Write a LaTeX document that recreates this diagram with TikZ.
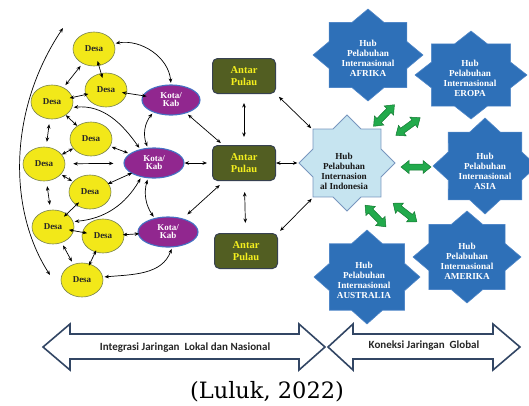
\documentclass[tikz,border=0pt]{standalone}
\usepackage{fontspec}
\setmainfont{Liberation Serif}
\newfontfamily\carlito{Carlito}
\newfontfamily\djserif{DejaVu Serif}
\usetikzlibrary{shapes.geometric,arrows.meta}
\definecolor{desaY}{RGB}{242,232,25}
\definecolor{desaB}{RGB}{120,130,80}
\definecolor{kotaP}{RGB}{145,39,143}
\definecolor{kotaB}{RGB}{68,114,196}
\definecolor{antarG}{RGB}{82,94,34}
\definecolor{antarB}{RGB}{55,65,80}
\definecolor{antarT}{RGB}{245,240,30}
\definecolor{indoF}{RGB}{198,228,240}
\definecolor{indoB}{RGB}{120,150,190}
\definecolor{blueS}{RGB}{46,112,184}
\definecolor{blueB}{RGB}{80,135,200}
\definecolor{grn}{RGB}{34,170,76}
\definecolor{grnB}{RGB}{20,120,50}
\definecolor{blockB}{RGB}{50,70,100}
\newcommand\bluestar[4]{\filldraw[fill=blueS, draw=blueB, line width=0.6pt] plot[variable=\k, samples at={0,...,15}] ({#1+#3*(1-0.235*mod(\k,2))*cos(90+22.5*\k)}, {#2+#4*(1-0.235*mod(\k,2))*sin(90+22.5*\k)}) -- cycle;}
\newcommand\greenlink[4]{\coordinate (#1) at (#2,#3);
 \begin{scope}[shift={(#1)}, rotate=#4]
 \filldraw[fill=grn, draw=grnB, line width=0.5pt, line join=miter] (-15,0) -- (-7,-6.5) -- (-7,-3) -- (7,-3) -- (7,-6.5) -- (15,0) -- (7,6.5) -- (7,3) -- (-7,3) -- (-7,6.5) -- cycle;
 \end{scope}}
\begin{document}
\begin{tikzpicture}[x=1pt,y=-1pt,
 desa/.style={ellipse, draw=desaB, line width=0.6pt, fill=desaY, minimum width=42pt, minimum height=34pt, inner sep=0pt, font=\bfseries\fontsize{9}{9}\selectfont, text=black!85},
 kota/.style={ellipse, draw=kotaB, line width=1.1pt, fill=kotaP, minimum width=60pt, minimum height=30pt, inner sep=0pt, align=center, font=\bfseries\fontsize{9}{8}\selectfont, text=white},
 antar/.style={rectangle, rounded corners=5pt, draw=antarB, line width=1pt, fill=antarG, minimum width=63pt, minimum height=35pt, align=center, font=\bfseries\fontsize{10.5}{11.5}\selectfont, text=antarT},
 hubtxt/.style={align=center, inner sep=0pt, font=\bfseries\fontsize{9.2}{9.9}\selectfont, text=white},
 conn/.style={{Stealth[length=4.5pt,width=3.6pt]}-{Stealth[length=4.5pt,width=3.6pt]}, line width=0.7pt, black, shorten <=1.5pt, shorten >=1.5pt},
 blockarr/.style={draw=blockB, line width=1.6pt, fill=white, line join=miter},
 blocktxt/.style={font=\carlito\bfseries\fontsize{11}{12}\selectfont, text=black!85, anchor=base}
]
\useasboundingbox (0,0) rectangle (529,405);
% villages
\node[desa] (d1) at (94,49) {Desa};
\node[desa] (d2) at (106,90) {Desa};
\node[desa] (d3) at (52,102) {Desa};
\node[desa] (d4) at (91,139) {Desa};
\node[desa] (d5) at (44,164) {Desa};
\node[desa] (d6) at (90,192) {Desa};
\node[desa] (d7) at (53,227) {Desa};
\node[desa] (d8) at (103,236) {Desa};
\node[desa] (d9) at (82,280) {Desa};
% cities
\node[kota, minimum width=58pt] (k1) at (171,100) {Kota/\\Kab};
\node[kota] (k2) at (154,163) {Kota/\\Kab};
\node[kota] (k3) at (168,232) {Kota/\\Kab};
% inter-island
\node[antar] (a1) at (244,76) {Antar\\Pulau};
\node[antar] (a2) at (244,163) {Antar\\Pulau};
\node[antar] (a3) at (246,251) {Antar\\Pulau};
% hubs
\node[star, star points=8, star point ratio=1.307, minimum size=96pt, inner sep=0pt, fill=indoF, draw=indoB, line width=0.8pt] (indo) at (347,163) {};
\node[hubtxt, text=black!90] (indotxt) at (344,171) {Hub\\Pelabuhan\\Internasion\\al Indonesia};
\bluestar{368}{55}{55}{46}
\bluestar{471}{75}{56}{44}
\bluestar{485}{166}{52}{48}
\bluestar{467}{257}{54}{46}
\bluestar{367}{277}{53}{47}
\node[hubtxt] (afrika) at (368,58) {Hub\\Pelabuhan\\Internasional\\AFRIKA};
\node[hubtxt] (eropa) at (470,78) {Hub\\Pelabuhan\\Internasional\\EROPA};
\node[hubtxt] (asia) at (485,171) {Hub\\Pelabuhan\\Internasional\\ASIA};
\node[hubtxt] (amerika) at (467,261) {Hub\\Pelabuhan\\Internasional\\AMERIKA};
\node[hubtxt] (australia) at (364,280) {Hub\\Pelabuhan\\Internasional\\AUSTRALIA};
% green links
\greenlink{g1}{384}{115.5}{46}
\greenlink{g2}{408}{126.5}{36}
\greenlink{g3}{416}{167}{0}
\greenlink{g4}{405}{212.5}{-38}
\greenlink{g5}{375.5}{216}{-46}
% big arc
\coordinate (arcT) at (63,28);
\coordinate (arcB) at (50,275);
\draw[conn, shorten <=0pt, shorten >=0pt] (arcT) .. controls (8,110) and (8,210) .. (arcB);
% village links
\draw[conn, shorten <=-5pt, shorten >=-5pt] (d1) -- (d2);
\draw[conn, shorten <=3pt, shorten >=3pt] (d1) -- (d3);
\draw[conn, shorten <=-3pt, shorten >=-3pt] (d2) -- (d3);
\draw[conn, shorten <=-5pt, shorten >=-4pt] (d2) -- (k1);
\draw[conn] (d1.15) to[out=10,in=95] (k1.north);
\draw[conn] (d3.-15) to[out=5,in=125] (k2.135);
\draw[conn, shorten <=0pt, shorten >=0pt] (d3) -- (d4);
\draw[conn, shorten <=5pt, shorten >=5pt] (d3) -- (d5);
\draw[conn, shorten <=0pt, shorten >=0pt] (d4) -- (d5);
\draw[conn] (d4) -- (k2);
\draw[conn, shorten <=8pt, shorten >=10pt] (d5) -- (k2);
\draw[conn, shorten <=1pt, shorten >=1pt] (d5) -- (d6);
\draw[conn, shorten <=5pt, shorten >=5pt] (d5) -- (d7);
\draw[conn, shorten <=-1pt, shorten >=-1pt] (d6) -- (k2);
\draw[conn, shorten <=-4pt, shorten >=-4pt] (d6) -- (d7);
\draw[conn] (d7.15) to[out=5,in=-120] (k2.228);
\draw[conn, shorten <=-5pt, shorten >=-5pt] (d7) -- (d8);
\draw[conn, shorten <=-1.5pt, shorten >=-1.5pt] (d8) -- (k3);
\draw[conn, shorten <=3pt, shorten >=3pt] (d7) -- (d9);
\draw[conn, shorten <=-2pt, shorten >=-2pt] (d8) -- (d9);
\draw[conn] (d9.8) to[out=5,in=-110] (k3.-75);
\draw[conn] (k1.215) to[bend right=30] (k2.112);
\draw[conn] (k2.248) to[bend right=25] (k3.134);
% city to island
\draw[conn, shorten <=2pt, shorten >=3pt] (k1) -- (a2);
\draw[conn, shorten <=0pt, shorten >=5pt] (k2) -- (a2);
\draw[conn, shorten <=6pt, shorten >=6pt] (k3) -- (a2);
\draw[conn, shorten <=9pt, shorten >=8pt] (a1) -- (a2);
\draw[conn, shorten <=11pt, shorten >=10pt] (a2) -- (a3);
\draw[conn, shorten <=4pt, shorten >=2pt] (a1.south east) -- (indo);
\draw[conn, shorten <=0pt, shorten >=1pt] (a2) -- (indo);
\draw[conn, shorten <=3pt, shorten >=2pt] (a3.north east) -- (indo);
% bottom block arrows
\draw[blockarr] (43,347) -- (70,324) -- (70,334) -- (299,334) -- (299,324) -- (325,347) -- (299,370) -- (299,359) -- (70,359) -- (70,370) -- cycle;
\draw[blockarr] (328,347) -- (353,324) -- (353,334) -- (493,334) -- (493,324) -- (520,347) -- (493,370) -- (493,359) -- (353,359) -- (353,370) -- cycle;
\node[blocktxt] (lokal) at (185,350.5) {Integrasi Jaringan~ Lokal dan Nasional};
\node[blocktxt] (global) at (424,348.5) {Koneksi Jaringan~ Global};
\node[font=\djserif\fontsize{22.5}{25}\selectfont, anchor=base] (cap) at (267,398) {(Luluk, 2022)};
\end{tikzpicture}
\end{document}
